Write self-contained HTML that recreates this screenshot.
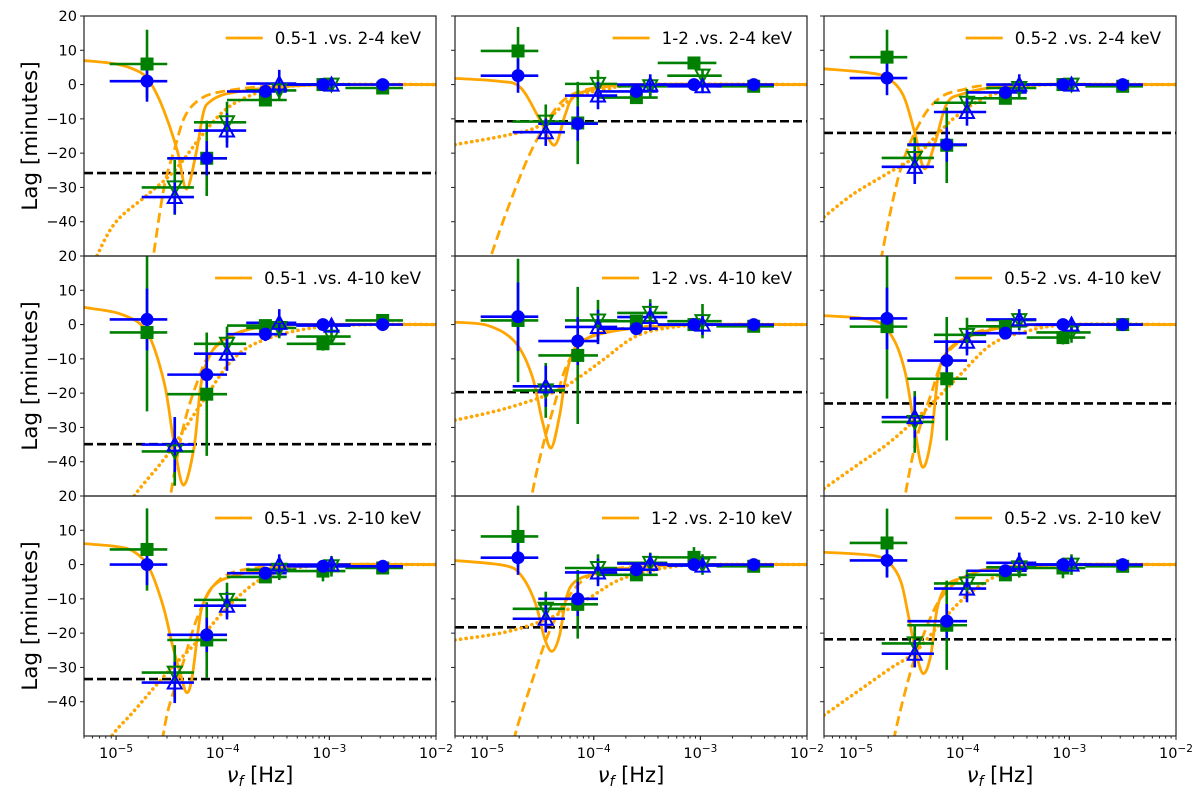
<!DOCTYPE html>
<html><head><meta charset="utf-8">
<style>
html,body{margin:0;padding:0;background:#fff;}
svg{display:block;font-family:"DejaVu Sans","Liberation Sans",sans-serif;}
</style></head>
<body>
<svg id="fig" width="1200" height="800" viewBox="0 0 1200 800" xmlns="http://www.w3.org/2000/svg"></svg>
<script>
const panelLabels = ["0.5-1 .vs. 2-4 keV","1-2 .vs. 2-4 keV","0.5-2 .vs. 2-4 keV","0.5-1 .vs. 4-10 keV","1-2 .vs. 4-10 keV","0.5-2 .vs. 4-10 keV","0.5-1 .vs. 2-10 keV","1-2 .vs. 2-10 keV","0.5-2 .vs. 2-10 keV"];
const yTicks = [20,10,0,-10,-20,-30,-40];
const xTickExp = [-5,-4,-3,-2];
// log10 frequency of bins
const sqFreq = [-4.71,-4.15,-3.60,-3.06,-2.50];
const sqLo = [-5.06,-4.52,-3.96,-3.40,-2.85];
const sqHi = [-4.52,-3.96,-3.40,-2.85,-2.31];
const triFreq = [-4.45,-3.96,-3.47,-2.98];
const triLo = [-4.76,-4.27,-3.78,-3.31];
const triHi = [-4.27,-3.78,-3.31,-2.80];
const sqLag = [[6,-21.5,-4.5,0,-1],[9.8,-11.2,-3.8,6.3,-0.5],[8,-17.7,-4,0,-0.5],[-2.3,-20.3,-0.3,-5.6,1.2],[1.2,-9,1,0,-0.5],[-0.6,-15.8,-0.5,-3.8,0],[4.4,-22,-3.6,-1.9,-1],[8.2,-11.6,-3,2.1,-0.5],[6.3,-17.7,-3,-1,-0.5]];
const sqErr = [[10,11,1.5,1,1],[7,12,1.5,1,1],[8,11,1.5,1,1],[23,18,1.5,2,1],[18,20,1,1,1],[21,18,1.5,2,1],[12,11,1.5,3,1],[9,10,1.5,3,1],[10,13,1.5,3,1]];
const circLag = [[1,-21.5,-2,0,0],[2.6,-11.4,-2,0,0],[1.9,-17.5,-2.3,0,0],[1.5,-14.6,-2.8,0,0],[2.3,-4.8,-1.2,0,0],[1.8,-10.5,-2.5,0,0],[0,-20.5,-2.5,-0.5,-0.5],[2,-10,-1.5,0,0],[1.2,-16.5,-1.8,0,0]];
const circErr = [[6,5,1.5,1.5,1],[5,5,1.5,1,1],[5,5,1.5,1,1],[9,6,2,1.5,1],[10,7,1.5,1,1],[9,6,1.5,1,1],[6,5,1.5,1.5,1],[5,5,1.5,1,1],[5,5,1.5,1,1]];
const dtLag = [[-30,-11,-1.7,0],[-10.8,0.2,-0.5,2.6],[-21.4,-5.3,-1,0],[-37,-5.6,-1,-3.5],[-19.2,1.2,3.4,1],[-28.4,-3,1.3,-2.3],[-31.5,-10.3,-1.5,-0.5],[-12.9,-1,0.5,0],[-23,-5.5,-0.8,0]];
const dtErr = [[8,6,3,2],[5,4,3,2],[6,4,3,2],[10,5,3,2],[8,6,4,5],[9,5,3,3],[8,5,3,3],[5,4,3,3],[5,4,3,3]];
const utLag = [[-32.8,-13.4,0.3,0],[-13.9,-3.2,0,-0.5],[-24,-8,0,0],[-35,-8.5,0.5,-0.3],[-18,-0.7,2.2,0],[-27,-5,1.5,0],[-34.4,-12,0,0],[-15.8,-2.3,0.3,-0.3],[-26,-7,0.5,0]];
const utErr = [[5,5,4,2],[4,4,3,2],[5,4,3,2],[8,5,4,2],[6,5,4,3],[6,4,3,2],[6,4,3,2],[4,4,3,2],[4,4,3,2]];
const refLag = [-25.8,-10.7,-14.1,-34.9,-19.7,-23,-33.4,-18.3,-21.8];
const solidCurve = [
 [[-5.3,7],[-5.0,6],[-4.8,4],[-4.7,1.5],[-4.6,-4],[-4.5,-12],[-4.42,-20],[-4.34,-30.5],[-4.25,-20],[-4.18,-8],[-4.12,-5],[-4.0,-3],[-3.8,-1.8],[-3.5,-0.7],[-3.0,0],[-2.0,0]],
 [[-5.3,1.8],[-4.9,1],[-4.69,-0.8],[-4.51,-10],[-4.37,-17.7],[-4.27,-9],[-4.2,-4],[-4.04,-1.7],[-3.6,0],[-2.0,0]],
 [[-5.3,4.6],[-4.9,3.5],[-4.71,2],[-4.56,-3],[-4.45,-14],[-4.36,-24.5],[-4.26,-17],[-4.15,-5.6],[-4.0,-2.7],[-3.7,-0.8],[-3.2,0],[-2.0,0]],
 [[-5.3,5],[-4.95,3],[-4.71,-2.2],[-4.55,-16.8],[-4.46,-34],[-4.37,-46.8],[-4.27,-36],[-4.21,-18.7],[-4.15,-11],[-4.02,-5],[-3.74,-1.3],[-3.3,0],[-2.0,0]],
 [[-5.3,0.7],[-4.99,-0.3],[-4.74,-5],[-4.58,-14.8],[-4.48,-28.4],[-4.40,-36],[-4.32,-26.5],[-4.27,-16.8],[-4.18,-7],[-3.99,-3.2],[-3.6,-1],[-3.0,0],[-2.0,0]],
 [[-5.3,2.6],[-4.83,1.2],[-4.65,-4.2],[-4.54,-13.9],[-4.46,-28.4],[-4.38,-41.5],[-4.30,-34],[-4.23,-14.8],[-4.15,-8],[-3.99,-4.2],[-3.7,-1.3],[-3.3,0],[-2.0,0]],
 [[-5.3,6.1],[-5.01,5.3],[-4.84,3.9],[-4.69,-1],[-4.56,-12],[-4.47,-23.7],[-4.40,-31.5],[-4.34,-37.3],[-4.29,-33.4],[-4.23,-19],[-4.19,-12],[-4.09,-6.3],[-3.91,-3.4],[-3.5,-1],[-3.0,0],[-2.0,0]],
 [[-5.3,1.2],[-4.83,-0.3],[-4.68,-3.2],[-4.55,-11],[-4.46,-21.6],[-4.39,-25.3],[-4.32,-20.6],[-4.26,-10],[-4.18,-5.1],[-3.99,-2.7],[-3.6,-0.8],[-3.0,0],[-2.0,0]],
 [[-5.3,3.6],[-4.83,2.6],[-4.68,0.2],[-4.58,-5],[-4.51,-14.8],[-4.44,-25.5],[-4.37,-31.8],[-4.30,-26.5],[-4.24,-12.9],[-4.15,-6.1],[-3.99,-3.7],[-3.7,-1],[-3.0,0],[-2.0,0]]
];
const dashCurve = [
 [[-4.7,-62],[-4.65,-50],[-4.55,-30],[-4.45,-18.6],[-4.35,-9],[-4.2,-4],[-4.0,-2],[-3.6,-0.5],[-3.0,0],[-2.0,0]],
 [[-5.0,-58],[-4.96,-49.7],[-4.66,-24.5],[-4.44,-11],[-4.26,-4],[-4.0,-1],[-3.6,0],[-2.0,0]],
 [[-4.8,-60],[-4.76,-50],[-4.59,-25.5],[-4.40,-11],[-4.22,-4],[-4.0,-1.5],[-3.6,0],[-2.0,0]],
 [[-4.53,-62],[-4.49,-50],[-4.37,-30],[-4.24,-16.8],[-4.11,-8],[-3.9,-3.2],[-3.6,-0.5],[-3.0,0],[-2.0,0]],
 [[-4.62,-62],[-4.58,-50],[-4.49,-37],[-4.37,-23.5],[-4.24,-11],[-4.06,-4],[-3.7,-1],[-3.0,0],[-2.0,0]],
 [[-4.58,-62],[-4.54,-50],[-4.43,-33],[-4.30,-20.6],[-4.18,-10],[-3.99,-4.2],[-3.7,-1],[-3.0,0],[-2.0,0]],
 [[-4.6,-60],[-4.56,-50],[-4.50,-41],[-4.38,-29.5],[-4.22,-14],[-4.03,-4.4],[-3.7,-1],[-3.0,0],[-2.0,0]],
 [[-4.78,-60],[-4.74,-50],[-4.58,-34.2],[-4.43,-20.6],[-4.27,-11],[-4.06,-3.7],[-3.7,-0.8],[-3.0,0],[-2.0,0]],
 [[-4.68,-60],[-4.64,-50],[-4.49,-31.3],[-4.37,-20.6],[-4.21,-10],[-3.99,-3.7],[-3.7,-1],[-3.0,0],[-2.0,0]]
];
const dotCurve = [
 [[-5.25,-56],[-5.18,-50],[-5.0,-40],[-4.7,-32],[-4.45,-25],[-4.2,-15],[-4.0,-8],[-3.8,-4],[-3.5,-1],[-3.0,0],[-2.0,0]],
 [[-5.3,-17.5],[-4.82,-14.8],[-4.51,-12],[-4.2,-4],[-3.9,-1.5],[-3.5,0],[-2.0,0]],
 [[-5.3,-38.6],[-5.03,-32],[-4.71,-26],[-4.43,-20.6],[-4.09,-10],[-3.78,-3.7],[-3.4,-0.5],[-3.0,0],[-2.0,0]],
 [[-4.9,-56],[-4.83,-50],[-4.52,-38],[-4.21,-23.5],[-3.90,-10],[-3.59,-4.2],[-3.12,-0.8],[-2.6,0],[-2.0,0]],
 [[-5.3,-27.9],[-4.83,-24.5],[-4.37,-19.7],[-4.11,-14.8],[-3.9,-10],[-3.59,-3.2],[-3.2,-0.5],[-2.8,0],[-2.0,0]],
 [[-5.3,-47.8],[-4.99,-41],[-4.68,-34.2],[-4.37,-25.5],[-4.06,-15.8],[-3.74,-6],[-3.43,-2.2],[-3.0,0],[-2.0,0]],
 [[-5.1,-56],[-5.04,-50],[-4.84,-43],[-4.52,-31.5],[-4.22,-21.8],[-3.91,-11],[-3.59,-3.4],[-3.2,-0.5],[-2.8,0],[-2.0,0]],
 [[-5.3,-22],[-4.83,-19.7],[-4.43,-15.8],[-4.06,-10],[-3.74,-4.2],[-3.3,-0.8],[-2.9,0],[-2.0,0]],
 [[-5.3,-43.9],[-4.99,-37.1],[-4.68,-30.3],[-4.43,-25],[-4.06,-11.9],[-3.74,-4.2],[-3.4,-0.8],[-3.0,0],[-2.0,0]]
];

const NS = "http://www.w3.org/2000/svg";
const svg = document.getElementById('fig');
const colLeft = [84,455,824], rowTop = [16,256,496], PW = 352, PH = 240;
const XMIN = Math.log10(5e-6), XMAX = -2, YMAX = 20, YMIN = -50;
function mk(tag, attrs, parent){ const e=document.createElementNS(NS,tag); for(const k in attrs) e.setAttribute(k,attrs[k]); (parent||svg).appendChild(e); return e; }
function sx(p,lf){ return colLeft[p%3] + (lf-XMIN)/(XMAX-XMIN)*PW; }
function sy(p,v){ return rowTop[Math.floor(p/3)] + (YMAX-v)/(YMAX-YMIN)*PH; }
function smoothPath(pts){
  let d = "M"+pts[0][0].toFixed(2)+","+pts[0][1].toFixed(2);
  for(let i=0;i<pts.length-1;i++){
    const p0=pts[Math.max(0,i-1)], p1=pts[i], p2=pts[i+1], p3=pts[Math.min(pts.length-1,i+2)];
    const c1=[p1[0]+(p2[0]-p0[0])/6, p1[1]+(p2[1]-p0[1])/6];
    const c2=[p2[0]-(p3[0]-p1[0])/6, p2[1]-(p3[1]-p1[1])/6];
    d+=" C"+c1[0].toFixed(2)+","+c1[1].toFixed(2)+" "+c2[0].toFixed(2)+","+c2[1].toFixed(2)+" "+p2[0].toFixed(2)+","+p2[1].toFixed(2);
  }
  return d;
}
const defs = mk('defs',{});
for(let p=0;p<9;p++){
  const L=colLeft[p%3], T=rowTop[Math.floor(p/3)];
  const cp = mk('clipPath',{id:'clip'+p},defs);
  mk('rect',{x:L,y:T,width:PW,height:PH},cp);
  const g = mk('g',{'clip-path':'url(#clip'+p+')'});
  
  
  const ref = mk('line',{x1:L,x2:L+PW,y1:sy(p,refLag[p]),y2:sy(p,refLag[p]),stroke:'#000','stroke-width':2.6,'stroke-dasharray':'9,4'},g);
  
  
  const curves=[[solidCurve[p],'none','solid-model-curve'],[dashCurve[p],'10,5','dashed-model-curve'],[dotCurve[p],'0.1,5.5','dotted-model-curve']];
  curves.forEach(c=>{
    const pts=c[0].map(q=>[sx(p,q[0]),sy(p,q[1])]);
    const dotted=c[1]==='0.1,5.5';
    const path=mk('path',{d:smoothPath(pts),fill:'none',stroke:'#ffa500','stroke-width':dotted?3.6:2.8,'stroke-dasharray':c[1],'stroke-linecap':dotted?'round':'butt'},g);
    
    
  });
  function ebar(xc,xlo,xhi,v,err,col){
    const eg=mk('g',{stroke:col,'stroke-width':2.6},g);
    
    
    mk('line',{x1:sx(p,xlo),x2:sx(p,xhi),y1:sy(p,v),y2:sy(p,v)},eg);
    mk('line',{x1:sx(p,xc),x2:sx(p,xc),y1:sy(p,v-err),y2:sy(p,v+err)},eg);
  }
  for(let i=0;i<sqFreq.length;i++) ebar(sqFreq[i],sqLo[i],sqHi[i],sqLag[p][i],sqErr[p][i],'#008000');
  for(let i=0;i<triFreq.length;i++) ebar(triFreq[i],triLo[i],triHi[i],dtLag[p][i],dtErr[p][i],'#008000');
  for(let i=0;i<sqFreq.length;i++) ebar(sqFreq[i],sqLo[i],sqHi[i],circLag[p][i],circErr[p][i],'#0000ff');
  for(let i=0;i<triFreq.length;i++) ebar(triFreq[i],triLo[i],triHi[i],utLag[p][i],utErr[p][i],'#0000ff');
  for(let i=0;i<sqFreq.length;i++){
    const r=mk('rect',{x:sx(p,sqFreq[i])-6.5,y:sy(p,sqLag[p][i])-6.5,width:13,height:13,fill:'#008000'},g);
    
    
  }
  for(let i=0;i<triFreq.length;i++){
    const x=sx(p,triFreq[i]), y=sy(p,dtLag[p][i]);
    const t=mk('polygon',{points:(x-7)+','+(y-6)+' '+(x+7)+','+(y-6)+' '+x+','+(y+7)},g);
    t.setAttribute('fill','none'); t.setAttribute('stroke','#008000'); t.setAttribute('stroke-width','2');
    
    
  }
  for(let i=0;i<sqFreq.length;i++){
    const c=mk('circle',{cx:sx(p,sqFreq[i]),cy:sy(p,circLag[p][i]),r:6.5,fill:'#0000ff'},g);
    
    
  }
  for(let i=0;i<triFreq.length;i++){
    const x=sx(p,triFreq[i]), y=sy(p,utLag[p][i]);
    const t=mk('polygon',{points:(x-7)+','+(y+6)+' '+(x+7)+','+(y+6)+' '+x+','+(y-7)},g);
    t.setAttribute('fill','none'); t.setAttribute('stroke','#0000ff'); t.setAttribute('stroke-width','2');
    
    
  }
  const fr=mk('rect',{x:L,y:T,width:PW,height:PH,fill:'none',stroke:'#222','stroke-width':1.2});
  
  
  yTicks.forEach(v=>{
    const y=sy(p,v);
    mk('line',{x1:L-4,x2:L,y1:y,y2:y,stroke:'#222','stroke-width':1});
    if(p%3===0){
      const t=mk('text',{x:L-7,y:y+5,'text-anchor':'end','font-size':14.5,fill:'#000'});
      t.textContent=(v<0?'\u2212':'')+Math.abs(v);
      
      
    }
  });
  if(Math.floor(p/3)===2){
    const B=T+PH;
    for(let e=-6;e<-2;e++){
      for(let m=1;m<10;m++){
        const lf=e+Math.log10(m);
        if(lf<XMIN-1e-9||lf>XMAX+1e-9) continue;
        mk('line',{x1:sx(p,lf),x2:sx(p,lf),y1:B,y2:B+(m===1?4:2.5),stroke:'#222','stroke-width':1});
      }
    }
    xTickExp.forEach(e=>{
      const x=sx(p,e);
      mk('line',{x1:x,x2:x,y1:B,y2:B+4,stroke:'#222','stroke-width':1});
      const t=mk('text',{x:x,y:B+22,'text-anchor':'middle','font-size':14.5,fill:'#000'});
      
      
      const a=mk('tspan',{},t); a.textContent='10';
      const b=mk('tspan',{dy:-6,'font-size':10.5},t); b.textContent='\u2212'+Math.abs(e);
    });
    const xt=mk('text',{x:L+PW/2,y:B+46,'text-anchor':'middle','font-size':21,fill:'#000'});
    
    
    const n=mk('tspan',{'font-style':'italic'},xt); n.textContent='\u03bd';
    const s=mk('tspan',{'font-style':'italic','font-size':14,dy:4},xt); s.textContent='f';
    const h=mk('tspan',{dy:-4},xt); h.textContent=' [Hz]';
  }
  if(p%3===0){
    const cy=T+PH/2;
    const yt=mk('text',{x:0,y:0,transform:'translate(37,'+cy+') rotate(-90)','text-anchor':'middle','font-size':21.5,fill:'#000'});
    yt.textContent='Lag [minutes]';
    
    
  }
  const lg=mk('g',{});
  
  
  const lt=mk('text',{x:L+337,y:T+28,'text-anchor':'end','font-size':16.7,fill:'#000'},lg);
  lt.textContent=panelLabels[p];
  const w=lt.getComputedTextLength();
  const x1=L+337-w-12;
  mk('line',{x1:x1-37,x2:x1,y1:T+22,y2:T+22,stroke:'#ffa500','stroke-width':2.8},lg);
}
</script>
</body></html>
